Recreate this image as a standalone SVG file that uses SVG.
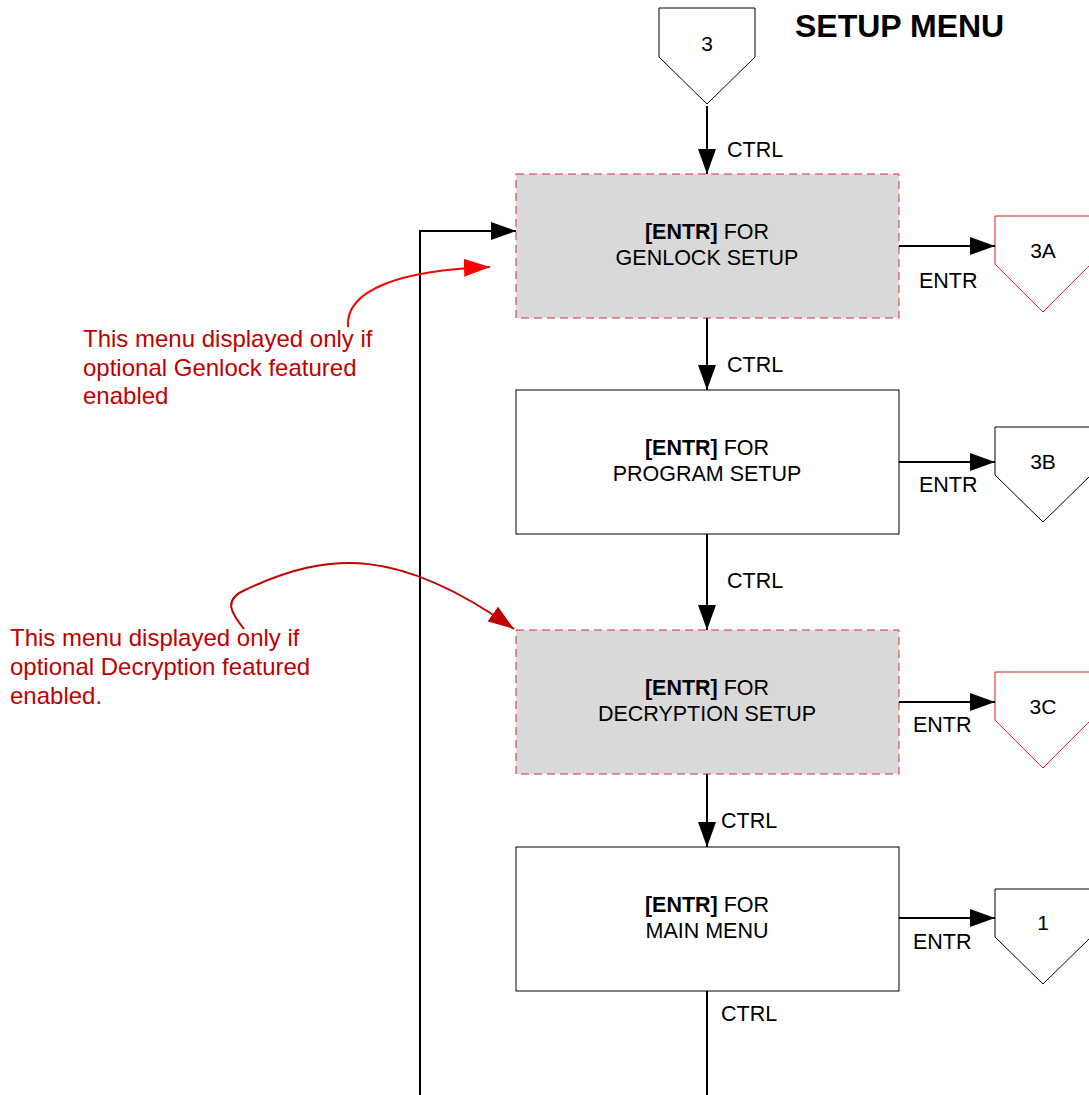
<svg xmlns="http://www.w3.org/2000/svg" width="1089" height="1095" viewBox="0 0 1089 1095">
  <style>
    text { font-family: "Liberation Sans", Arial, sans-serif; }
    .box { stroke: #000; stroke-width: 1; fill: #fff; }
    .opt { fill: #d9d9d9; stroke: #d43030; stroke-width: 1; stroke-dasharray: 8 5; }
    .lbl { font-size: 21.5px; fill: #000; text-anchor: middle; }
    .key { font-size: 21.5px; fill: #000; }
    .off { fill: #fff; stroke: #000; stroke-width: 1; }
    .offr { fill: #fff; stroke: #d02020; stroke-width: 1; }
    .num { font-size: 21px; text-anchor: middle; fill: #000; }
    .wire { stroke: #000; stroke-width: 2; fill: none; }
    .note { font-size: 24px; fill: #c00000; }
  </style>
  <defs>
    <marker id="ah" markerWidth="25" markerHeight="18" refX="25" refY="9" orient="auto" markerUnits="userSpaceOnUse">
      <path d="M0,0 L25,9 L0,18 Z" fill="#000"/>
    </marker>
    <marker id="ahRed" markerWidth="26" markerHeight="18" refX="26" refY="9" orient="auto" markerUnits="userSpaceOnUse">
      <path d="M0,0 L26,9 L0,18 Z" fill="#ff0000"/>
    </marker>
    <marker id="ahDark" markerWidth="26" markerHeight="18" refX="26" refY="9" orient="auto" markerUnits="userSpaceOnUse">
      <path d="M0,0 L26,9 L0,18 Z" fill="#c00000"/>
    </marker>
  </defs>

  <text x="795" y="37" font-size="32" font-weight="bold" fill="#000">SETUP MENU</text>

  <!-- entry off-page connector -->
  <g id="conn3">
    <path class="off" d="M659,8 H755 V57 L707,104 L659,57 Z"/>
    <text class="num" x="707" y="51">3</text>
  </g>

  <g id="genlock">
    <rect class="opt" x="516" y="174" width="383" height="144"/>
    <text class="lbl" x="707" y="239"><tspan font-weight="bold">[ENTR]</tspan> FOR</text>
    <text class="lbl" x="707" y="265">GENLOCK SETUP</text>
  </g>
  <g id="conn3A">
    <path class="offr" d="M995,216 H1091 V264 L1043,312 L995,264 Z"/>
    <text class="num" x="1043" y="258">3A</text>
  </g>

  <g id="program">
    <rect class="box" x="516" y="390" width="383" height="144"/>
    <text class="lbl" x="707" y="455"><tspan font-weight="bold">[ENTR]</tspan> FOR</text>
    <text class="lbl" x="707" y="481">PROGRAM SETUP</text>
  </g>
  <g id="conn3B">
    <path class="off" d="M995,427 H1091 V475 L1043,522 L995,475 Z"/>
    <text class="num" x="1043" y="469">3B</text>
  </g>

  <g id="decryption">
    <rect class="opt" x="516" y="630" width="383" height="144"/>
    <text class="lbl" x="707" y="695"><tspan font-weight="bold">[ENTR]</tspan> FOR</text>
    <text class="lbl" x="707" y="721">DECRYPTION SETUP</text>
  </g>
  <g id="conn3C">
    <path class="offr" d="M995,672 H1091 V720 L1043,768 L995,720 Z"/>
    <text class="num" x="1043" y="714">3C</text>
  </g>

  <g id="mainmenu">
    <rect class="box" x="516" y="847" width="383" height="144"/>
    <text class="lbl" x="707" y="912"><tspan font-weight="bold">[ENTR]</tspan> FOR</text>
    <text class="lbl" x="707" y="938">MAIN MENU</text>
  </g>
  <g id="conn1">
    <path class="off" d="M995,889 H1091 V937 L1043,984 L995,937 Z"/>
    <text class="num" x="1043" y="930">1</text>
  </g>

  <g id="connectors">
    <line class="wire" x1="707" y1="106" x2="707" y2="174" marker-end="url(#ah)"/>
    <line class="wire" x1="707" y1="318" x2="707" y2="390" marker-end="url(#ah)"/>
    <line class="wire" x1="707" y1="534" x2="707" y2="630" marker-end="url(#ah)"/>
    <line class="wire" x1="707" y1="774" x2="707" y2="847" marker-end="url(#ah)"/>
    <line class="wire" x1="707" y1="991" x2="707" y2="1095"/>
    <polyline class="wire" points="420,1095 420,231 516,231" marker-end="url(#ah)"/>
    <line class="wire" x1="899" y1="246" x2="995" y2="246" marker-end="url(#ah)"/>
    <line class="wire" x1="899" y1="462" x2="995" y2="462" marker-end="url(#ah)"/>
    <line class="wire" x1="899" y1="702" x2="995" y2="702" marker-end="url(#ah)"/>
    <line class="wire" x1="899" y1="918" x2="995" y2="918" marker-end="url(#ah)"/>

    <text class="key" x="727" y="157">CTRL</text>
    <text class="key" x="727" y="372">CTRL</text>
    <text class="key" x="727" y="588">CTRL</text>
    <text class="key" x="721" y="828">CTRL</text>
    <text class="key" x="721" y="1021">CTRL</text>
    <text class="key" x="919" y="288">ENTR</text>
    <text class="key" x="919" y="492">ENTR</text>
    <text class="key" x="913" y="732">ENTR</text>
    <text class="key" x="913" y="949">ENTR</text>
  </g>

  <!-- notes for the optional menus -->
  <g id="note-genlock">
    <path d="M348,327 C345,290 400,270 490,267" fill="none" stroke="#ff0000" stroke-width="2" marker-end="url(#ahRed)"/>
    <text class="note" x="83" y="347">This menu displayed only if</text>
    <text class="note" x="83" y="376">optional Genlock featured</text>
    <text class="note" x="83" y="404">enabled</text>
  </g>
  <g id="note-decryption">
    <path d="M244,629 C232,614 222,600 245,590 C330,550 400,548 514,629" fill="none" stroke="#c00000" stroke-width="2" marker-end="url(#ahDark)"/>
    <text class="note" x="10" y="646">This menu displayed only if</text>
    <text class="note" x="10" y="675">optional Decryption featured</text>
    <text class="note" x="10" y="704">enabled.</text>
  </g>
</svg>
